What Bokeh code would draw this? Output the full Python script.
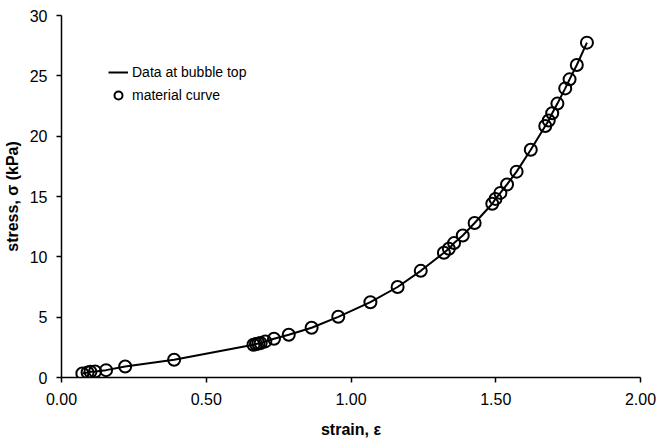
from bokeh.plotting import figure
from bokeh.models import Range1d, FixedTicker, Legend, LegendItem
from bokeh.embed import file_html
from bokeh.resources import INLINE

# material curve points (strain, stress in kPa)
strain = [0.072, 0.090, 0.100, 0.116, 0.154, 0.220, 0.389, 0.663, 0.672, 0.680,
          0.688, 0.704, 0.734, 0.785, 0.864, 0.956, 1.067, 1.161, 1.241, 1.321,
          1.338, 1.356, 1.386, 1.427, 1.488, 1.499, 1.516, 1.539, 1.572, 1.621,
          1.671, 1.683, 1.695, 1.713, 1.740, 1.755, 1.780, 1.815]
stress = [0.33, 0.41, 0.47, 0.50, 0.61, 0.91, 1.47, 2.71, 2.77, 2.82,
          2.85, 2.99, 3.21, 3.54, 4.12, 5.03, 6.24, 7.50, 8.84, 10.34,
          10.67, 11.14, 11.77, 12.80, 14.40, 14.80, 15.30, 16.00, 17.06, 18.88,
          20.84, 21.30, 21.90, 22.70, 23.96, 24.71, 25.90, 27.75]

# data at bubble top (line)
line_strain = strain
line_stress = stress

x_ticks = [0.0, 0.5, 1.0, 1.5, 2.0]
x_tick_labels = ["0.00", "0.50", "1.00", "1.50", "2.00"]
y_ticks = [0, 5, 10, 15, 20, 25, 30]
y_tick_labels = ["0", "5", "10", "15", "20", "25", "30"]

FONT = "Liberation Sans"

p = figure(width=656, height=440, output_backend="svg", toolbar_location=None,
           x_range=Range1d(0, 2), y_range=Range1d(0, 30),
           min_border_left=57, min_border_right=16, min_border_top=15,
           min_border_bottom=63)
p.background_fill_color = "white"
p.border_fill_color = "white"
p.outline_line_color = None
p.xgrid.visible = False
p.ygrid.visible = False

r_line = p.line(line_strain, line_stress, line_color="black", line_width=2)
r_pts = p.scatter(strain, stress, marker="circle", size=12, fill_color=None,
                  line_color="black", line_width=2)

for ax in (p.xaxis[0], p.yaxis[0]):
    ax.axis_line_color = "black"
    ax.axis_line_width = 1.5
    ax.major_tick_line_color = "black"
    ax.major_tick_line_width = 1.5
    ax.major_tick_in = 0
    ax.major_tick_out = 5
    ax.minor_tick_line_color = None
    ax.major_label_text_font = FONT
    ax.major_label_text_font_size = "16px"
    ax.major_label_text_color = "black"
    ax.axis_label_text_font = FONT
    ax.axis_label_text_font_size = "16px"
    ax.axis_label_text_font_style = "bold"
    ax.axis_label_text_color = "black"

p.xaxis.ticker = FixedTicker(ticks=x_ticks)
p.xaxis.major_label_overrides = dict(zip(x_ticks, x_tick_labels))
p.yaxis.ticker = FixedTicker(ticks=y_ticks)
p.yaxis.major_label_overrides = dict(zip(y_ticks, y_tick_labels))
p.xaxis.axis_label = "strain, \u03b5"
p.yaxis.axis_label = "stress, \u03c3 (kPa)"
p.xaxis.major_label_standoff = 10
p.yaxis.major_label_standoff = 9
p.xaxis.axis_label_standoff = 13
p.yaxis.axis_label_standoff = 6

legend = Legend(items=[LegendItem(label="Data at bubble top", renderers=[r_line]),
                       LegendItem(label="material curve", renderers=[r_pts])],
                location=(47, 272))
legend.background_fill_alpha = 0
legend.border_line_color = None
legend.padding = 0
legend.margin = 0
legend.spacing = 3
legend.glyph_width = 20
legend.glyph_height = 20
legend.label_height = 20
legend.label_standoff = 4
legend.label_text_font = FONT
legend.label_text_font_size = "14px"
legend.label_text_color = "black"
p.add_layout(legend, "center")

open("out.html", "w").write(file_html(p, INLINE))
